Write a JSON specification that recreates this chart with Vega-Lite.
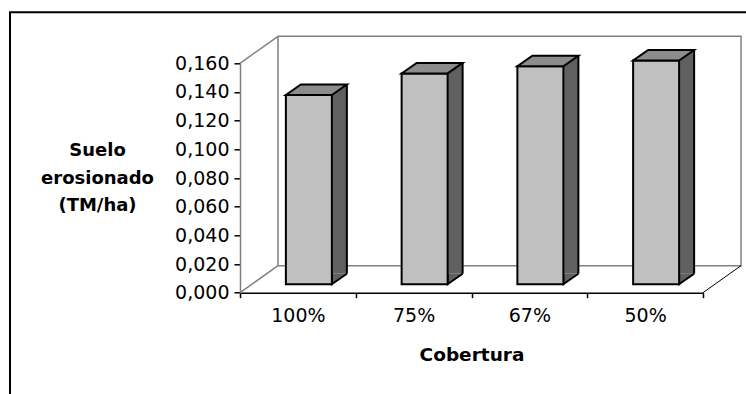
{
  "$schema": "https://vega.github.io/schema/vega-lite/v6.json",
  "width": 463,
  "height": 229.4,
  "autosize": {"type": "none"},
  "padding": {"left": 240, "top": 63.3, "right": 43, "bottom": 101.3},
  "background": "white",
  "config": {"view": {"stroke": null}, "font": "DejaVu Sans"},
  "data": {
    "values": [
      {"cobertura": "100%", "suelo": 0.132},
      {"cobertura": "75%", "suelo": 0.147},
      {"cobertura": "67%", "suelo": 0.152},
      {"cobertura": "50%", "suelo": 0.156}
    ]
  },
  "encoding": {
    "x": {
      "field": "cobertura",
      "type": "nominal",
      "sort": null,
      "scale": {"paddingInner": 0, "paddingOuter": 0},
      "axis": {
        "title": "Cobertura",
        "labelAngle": 0,
        "tickBand": "extent",
        "grid": false,
        "domainColor": "#000000",
        "domainWidth": 1.5,
        "tickColor": "#000000",
        "tickSize": 5,
        "tickWidth": 1.5,
        "labelFont": "DejaVu Sans",
        "labelFontSize": 19,
        "labelColor": "#000000",
        "labelBaseline": "alphabetic",
        "labelPadding": 24,
        "titleFont": "DejaVu Sans",
        "titleFontSize": 18.5,
        "titleFontWeight": "bold",
        "titleColor": "#000000",
        "titleBaseline": "alphabetic",
        "titleY": 68
      }
    },
    "y": {
      "field": "suelo",
      "type": "quantitative",
      "scale": {"domain": [0, 0.16], "nice": false, "zero": true},
      "axis": {
        "title": ["Suelo", "erosionado", "(TM/ha)"],
        "values": [0, 0.02, 0.04, 0.06, 0.08, 0.1, 0.12, 0.14, 0.16],
        "labelExpr": "replace(format(datum.value, '.3f'), '.', ',')",
        "grid": false,
        "domainColor": "#808080",
        "domainWidth": 1.5,
        "tickColor": "#000000",
        "tickSize": 6,
        "tickWidth": 1.5,
        "labelFont": "DejaVu Sans",
        "labelFontSize": 19,
        "labelColor": "#000000",
        "labelPadding": 5,
        "titleAngle": 0,
        "titleAlign": "center",
        "titleBaseline": "middle",
        "titleX": -143,
        "titleY": 87.2,
        "titleLineHeight": 27.5,
        "titleFont": "DejaVu Sans",
        "titleFontSize": 18,
        "titleFontWeight": "bold",
        "titleColor": "#000000"
      }
    }
  },
  "layer": [
    {
      "data": {"values": [{}]},
      "mark": {"type": "rect", "fill": "white", "fillOpacity": 0, "stroke": "#000000", "strokeWidth": 2},
      "encoding": {
        "x": {"value": -230},
        "x2": {"value": 560},
        "y": {"value": -51},
        "y2": {"value": 400}
      }
    },
    {
      "transform": [{"filter": "datum.cobertura == '100%'"}],
      "mark": {"type": "point", "shape": "M-19.875,-256.4L443.125,-256.4L443.125,-27L-19.875,-27ZM-57.875,-229.4L-19.875,-256.4M-57.875,0L-19.875,-27", "size": 4, "filled": false, "stroke": "#808080", "strokeWidth": 1.5, "opacity": 1, "strokeOpacity": 1},
      "encoding": {"y": {"datum": 0, "type": "quantitative"}}
    },
    {
      "transform": [{"filter": "datum.cobertura == '100%'"}],
      "mark": {"type": "point", "shape": "M405.125,0L443.125,-27", "size": 4, "filled": false, "stroke": "#000000", "strokeWidth": 1, "opacity": 1, "strokeOpacity": 1},
      "encoding": {"y": {"datum": 0, "type": "quantitative"}}
    },
    {
      "mark": {"type": "bar", "fill": "#606060", "strokeWidth": 0, "width": 15, "xOffset": 41.5, "yOffset": -19, "y2Offset": -19},
      "encoding": {"y2": {"datum": 0}}
    },
    {
      "mark": {"type": "point", "shape": "M34,-19L34,-8.5L49,-19", "size": 4, "filled": true, "fill": "#606060", "stroke": "#000000", "strokeWidth": 2, "opacity": 1, "fillOpacity": 1, "strokeOpacity": 1},
      "encoding": {"y": {"datum": 0, "type": "quantitative"}}
    },
    {
      "mark": {"type": "rule", "stroke": "#000000", "strokeWidth": 2, "xOffset": 49, "yOffset": -19, "y2Offset": -19},
      "encoding": {"y2": {"datum": 0}}
    },
    {
      "mark": {"type": "bar", "fill": "#C0C0C0", "stroke": "#000000", "strokeWidth": 2, "width": 46, "xOffset": 11, "yOffset": -8.5, "y2Offset": -8.5},
      "encoding": {"y2": {"datum": 0}}
    },
    {
      "mark": {"type": "point", "shape": "M-12,-8.5L34,-8.5L49,-19L3,-19Z", "size": 4, "filled": true, "fill": "#8C8C8C", "stroke": "#000000", "strokeWidth": 2, "opacity": 1, "fillOpacity": 1, "strokeOpacity": 1}
    }
  ]
}
